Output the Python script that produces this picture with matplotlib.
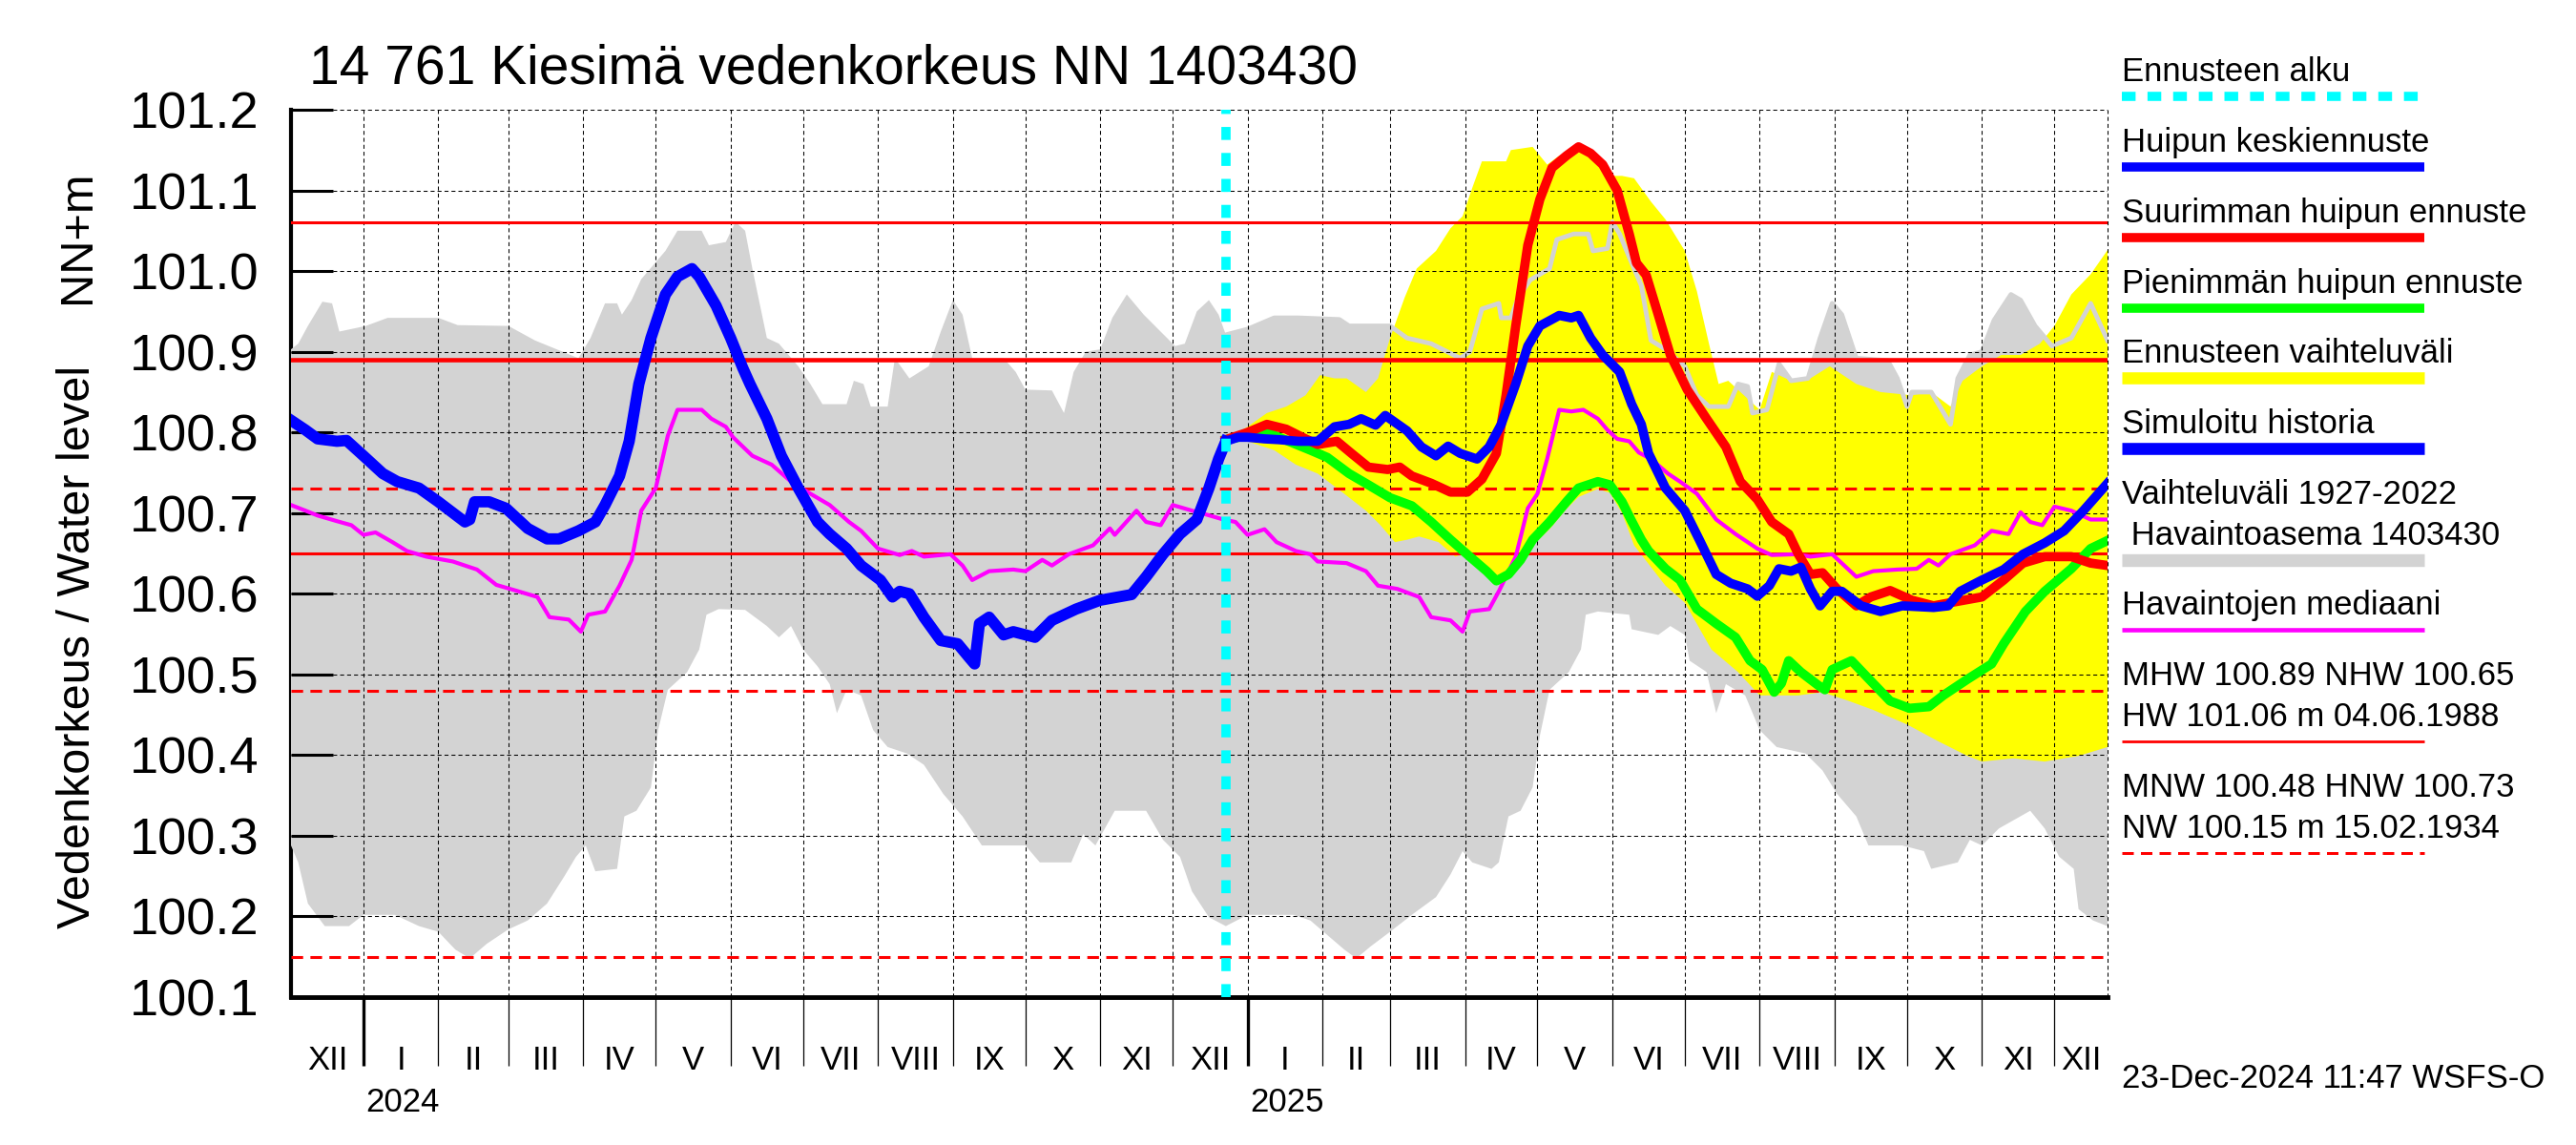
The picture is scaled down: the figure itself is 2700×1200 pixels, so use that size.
import numpy as np
import matplotlib
matplotlib.use("Agg")
import matplotlib.pyplot as plt
from matplotlib.transforms import blended_transform_factory

plt.rcParams['font.family'] = ['Liberation Sans', 'DejaVu Sans']

# x axis: days counted from 1 Jan 2024
x_start, x_end = -30, 722
forecast_day = 357

# simulated history (blue)
hist_days = [-30, -24, -19, -11, -7, 0, 8, 14, 23, 31, 42, 44, 46, 52, 59, 68, 76, 81, 89, 96,
             100, 106, 110, 114, 119, 125, 130, 136, 139, 146, 152, 157, 160, 167, 173, 180, 188,
             193, 200, 206, 214, 219, 222, 226, 232, 239, 246, 251, 253, 255, 259, 265, 269, 278,
             285, 295, 305, 318, 324, 331, 338, 345, 350, 354, 357]
hist_vals = [100.815, 100.803, 100.792, 100.789, 100.79, 100.771, 100.749, 100.739, 100.731, 100.714,
             100.689, 100.692, 100.714, 100.714, 100.706, 100.681, 100.668, 100.668, 100.678, 100.689,
             100.71, 100.746, 100.789, 100.86, 100.917, 100.971, 100.993, 101.003, 100.993, 100.957,
             100.917, 100.88, 100.86, 100.817, 100.771, 100.731, 100.689, 100.674, 100.656, 100.635,
             100.617, 100.596, 100.603, 100.6, 100.571, 100.542, 100.538, 100.52, 100.513, 100.563,
             100.571, 100.549, 100.553, 100.546, 100.567, 100.581, 100.592, 100.599, 100.621, 100.649,
             100.674, 100.692, 100.731, 100.767, 100.789]

# mean peak forecast (blue)
mid_days = [357, 362, 366, 373, 379, 387, 395, 402, 408, 413, 419, 423, 432, 438, 444, 449, 454, 461,
            466, 471, 477, 482, 487, 495, 500, 503, 508, 513, 520, 525, 529, 532, 539, 547, 553, 560,
            566, 573, 577, 582, 586, 591, 595, 599, 603, 608, 612, 620, 628, 637, 650, 656, 661, 670,
            679, 687, 696, 704, 712, 722]
mid_vals = [100.789, 100.794, 100.794, 100.792, 100.791, 100.789, 100.789, 100.807, 100.81, 100.817,
            100.809, 100.821, 100.802, 100.782, 100.771, 100.783, 100.774, 100.767, 100.782, 100.81,
            100.86, 100.907, 100.932, 100.945, 100.942, 100.945, 100.917, 100.896, 100.875, 100.835,
            100.81, 100.774, 100.731, 100.703, 100.667, 100.624, 100.613, 100.606, 100.597, 100.61,
            100.631, 100.628, 100.633, 100.606, 100.585, 100.603, 100.603, 100.585, 100.578, 100.585,
            100.583, 100.585, 100.603, 100.617, 100.63, 100.649, 100.663, 100.678, 100.703, 100.737]

# highest peak forecast (red)
max_days = [357, 366, 374, 382, 390, 395, 403, 409, 416, 424, 429, 434, 442, 450, 457, 463, 469, 473,
            477, 482, 487, 492, 498, 503, 508, 513, 519, 524, 527, 531, 536, 541, 548, 556, 564, 570,
            577, 583, 590, 594, 599, 604, 610, 618, 624, 632, 641, 650, 657, 670, 679, 687, 696, 707,
            715, 722]
max_vals = [100.791, 100.8, 100.81, 100.804, 100.792, 100.785, 100.789, 100.774, 100.757, 100.754,
            100.757, 100.746, 100.737, 100.726, 100.726, 100.742, 100.774, 100.846, 100.932, 101.032,
            101.089, 101.128, 101.143, 101.154, 101.146, 101.132, 101.1, 101.046, 101.01, 100.995,
            100.946, 100.896, 100.853, 100.817, 100.782, 100.739, 100.717, 100.689, 100.674, 100.649,
            100.624, 100.626, 100.606, 100.585, 100.596, 100.604, 100.592, 100.585, 100.589, 100.596,
            100.617, 100.638, 100.646, 100.646, 100.638, 100.635]

# lowest peak forecast (green)
min_days = [357, 366, 374, 383, 392, 399, 408, 416, 425, 434, 442, 450, 458, 465, 469, 474, 479, 484,
            491, 498, 503, 511, 516, 521, 525, 529, 532, 539, 545, 552, 560, 568, 574, 579, 584, 587,
            590, 595, 602, 605, 608, 616, 623, 632, 640, 648, 654, 664, 674, 679, 688, 696, 707, 715,
            722]
min_vals = [100.791, 100.796, 100.8, 100.789, 100.778, 100.769, 100.749, 100.735, 100.719, 100.709,
            100.689, 100.667, 100.646, 100.628, 100.616, 100.624, 100.642, 100.667, 100.689, 100.714,
            100.731, 100.739, 100.735, 100.714, 100.69, 100.667, 100.653, 100.631, 100.617, 100.581,
            100.563, 100.546, 100.517, 100.506, 100.478, 100.489, 100.517, 100.503, 100.487, 100.481,
            100.506, 100.517, 100.495, 100.467, 100.458, 100.46, 100.474, 100.494, 100.513, 100.538,
            100.578, 100.603, 100.631, 100.656, 100.666]

# observed median (magenta)
med_days = [-30, -24, -19, -11, -5, 0, 5, 12, 18, 26, 37, 47, 55, 63, 72, 77, 85, 90, 93, 100, 106,
            111, 115, 121, 126, 130, 140, 144, 150, 153, 161, 169, 177, 185, 193, 201, 206, 213, 222,
            227, 232, 243, 248, 252, 259, 269, 274, 281, 285, 292, 302, 309, 311, 320, 324, 330, 335,
            343, 348, 356, 361, 366, 373, 378, 386, 392, 395, 407, 415, 420, 428, 437, 442, 450, 455,
            458, 466, 470, 477, 482, 486, 490, 495, 500, 505, 511, 515, 519, 524, 528, 533, 540, 545,
            552, 560, 568, 577, 583, 593, 599, 608, 618, 625, 635, 643, 648, 652, 657, 667, 674, 681,
            686, 690, 695, 700, 707, 715, 722]
med_vals = [100.71, 100.703, 100.697, 100.69, 100.685, 100.673, 100.676, 100.664, 100.653, 100.646,
            100.64, 100.63, 100.611, 100.604, 100.596, 100.571, 100.568, 100.553, 100.574, 100.578,
            100.61, 100.642, 100.703, 100.731, 100.796, 100.828, 100.828, 100.817, 100.807, 100.794,
            100.771, 100.76, 100.739, 100.724, 100.71, 100.689, 100.678, 100.656, 100.648, 100.653,
            100.646, 100.649, 100.635, 100.617, 100.628, 100.63, 100.628, 100.642, 100.635, 100.649,
            100.66, 100.681, 100.673, 100.703, 100.689, 100.685, 100.71, 100.703, 100.699, 100.692,
            100.689, 100.673, 100.68, 100.664, 100.653, 100.649, 100.64, 100.638, 100.628, 100.61,
            100.606, 100.596, 100.571, 100.567, 100.553, 100.578, 100.581, 100.603, 100.646, 100.706,
            100.724, 100.767, 100.828, 100.826, 100.828, 100.817, 100.803, 100.792, 100.789, 100.775,
            100.767, 100.749, 100.739, 100.724, 100.692, 100.674, 100.656, 100.648, 100.649, 100.646,
            100.649, 100.621, 100.628, 100.63, 100.631, 100.642, 100.635, 100.649, 100.66, 100.678,
            100.674, 100.701, 100.689, 100.685, 100.708, 100.703, 100.692, 100.692]

# variation range 1927-2022, upper and lower edge (grey)
band_hi_days = [-30, -27, -23, -17, -13, -10, 1, 10, 31, 39, 60, 71, 80, 89, 94, 100, 105, 107, 111,
                115, 125, 130, 140, 143, 150, 154, 158, 161, 167, 172, 180, 185, 190, 200, 203, 207,
                210, 217, 220, 226, 234, 239, 244, 248, 252, 265, 270, 274, 285, 290, 294, 299, 305,
                310, 316, 323, 330, 336, 340, 345, 350, 354, 357, 366, 377, 387, 404, 408, 425, 432,
                442, 454, 458, 463, 470, 471, 475, 478, 483, 491, 494, 501, 507, 509, 515, 517, 520,
                526, 529, 533, 539, 547, 552, 557, 565, 569, 573, 575, 581, 586, 591, 598, 603, 608,
                612, 618, 631, 635, 639, 641, 649, 657, 660, 665, 670, 675, 682, 686, 692, 699, 707,
                715, 722]
band_hi_vals = [100.903, 100.91, 100.932, 100.962, 100.96, 100.925, 100.932, 100.942, 100.942, 100.933,
                100.932, 100.914, 100.903, 100.892, 100.917, 100.96, 100.96, 100.946, 100.964, 100.99,
                101.025, 101.05, 101.05, 101.032, 101.036, 101.061, 101.05, 101.003, 100.917, 100.91,
                100.882, 100.86, 100.835, 100.835, 100.864, 100.86, 100.832, 100.832, 100.892, 100.867,
                100.882, 100.925, 100.964, 100.946, 100.892, 100.892, 100.875, 100.853, 100.852, 100.824,
                100.875, 100.9, 100.903, 100.942, 100.971, 100.946, 100.925, 100.907, 100.91, 100.95,
                100.964, 100.946, 100.921, 100.928, 100.942, 100.942, 100.94, 100.932, 100.932, 100.917,
                100.91, 100.892, 100.9, 100.953, 100.96, 100.942, 100.942, 100.967, 100.989, 101.003,
                101.039, 101.046, 101.046, 101.025, 101.028, 101.061, 101.046, 101.003, 100.982, 100.914,
                100.903, 100.882, 100.846, 100.832, 100.832, 100.86, 100.857, 100.824, 100.828, 100.885,
                100.864, 100.867, 100.917, 100.96, 100.946, 100.892, 100.889, 100.867, 100.832, 100.85,
                100.85, 100.81, 100.867, 100.896, 100.9, 100.939, 100.971, 100.964, 100.932, 100.907,
                100.917, 100.96, 100.914]
band_lo_days = [-30, -27, -23, -16, -6, 0, 13, 23, 31, 38, 44, 51, 60, 68, 76, 83, 88, 92, 96, 105,
                108, 113, 119, 122, 126, 134, 139, 142, 147, 158, 167, 172, 177, 182, 188, 193, 196,
                200, 206, 211, 217, 225, 232, 240, 248, 256, 274, 280, 293, 298, 303, 311, 324, 331,
                338, 343, 350, 357, 366, 385, 392, 399, 406, 411, 417, 425, 434, 444, 450, 455, 459,
                467, 470, 474, 479, 484, 487, 491, 499, 504, 506, 511, 524, 525, 536, 541, 547, 549,
                556, 560, 564, 572, 578, 585, 597, 604, 610, 618, 623, 637, 646, 649, 660, 665, 670,
                677, 690, 696, 702, 708, 710, 716, 722]
band_lo_vals = [100.288, 100.267, 100.216, 100.188, 100.188, 100.202, 100.202, 100.188, 100.181, 100.159,
                100.148, 100.166, 100.184, 100.195, 100.216, 100.249, 100.274, 100.288, 100.256, 100.259,
                100.324, 100.331, 100.36, 100.431, 100.481, 100.503, 100.531, 100.574, 100.581, 100.58,
                100.56, 100.546, 100.56, 100.531, 100.51, 100.488, 100.452, 100.481, 100.474, 100.431,
                100.41, 100.402, 100.388, 100.352, 100.324, 100.288, 100.288, 100.267, 100.267, 100.302,
                100.288, 100.331, 100.331, 100.295, 100.274, 100.231, 100.199, 100.188, 100.202, 100.202,
                100.195, 100.177, 100.159, 100.148, 100.163, 100.181, 100.202, 100.224, 100.252, 100.281,
                100.267, 100.259, 100.267, 100.324, 100.331, 100.36, 100.424, 100.481, 100.503, 100.531,
                100.574, 100.578, 100.574, 100.556, 100.549, 100.56, 100.549, 100.517, 100.503, 100.452,
                100.488, 100.474, 100.431, 100.41, 100.402, 100.381, 100.352, 100.324, 100.288, 100.288,
                100.281, 100.259, 100.267, 100.295, 100.288, 100.309, 100.331, 100.309, 100.274, 100.259,
                100.209, 100.195, 100.188]

# forecast range (yellow)
fc_hi_days = [357, 366, 374, 382, 390, 396, 402, 407, 415, 420, 425, 431, 436, 444, 450, 455, 459, 463,
              473, 475, 484, 490, 495, 503, 511, 516, 521, 526, 533, 539, 547, 552, 557, 561, 565, 574,
              578, 583, 591, 599, 607, 618, 628, 641, 649, 657, 662, 670, 678, 686, 694, 700, 707, 715,
              722]
fc_hi_vals = [100.791, 100.807, 100.824, 100.832, 100.846, 100.871, 100.867, 100.867, 100.85, 100.867,
              100.917, 100.967, 101.003, 101.025, 101.053, 101.068, 101.103, 101.136, 101.136, 101.15,
              101.154, 101.132, 101.143, 101.154, 101.143, 101.118, 101.118, 101.115, 101.086, 101.064,
              101.025, 100.975, 100.91, 100.86, 100.864, 100.839, 100.828, 100.875, 100.864, 100.867,
              100.882, 100.86, 100.85, 100.846, 100.85, 100.832, 100.864, 100.882, 100.896, 100.896,
              100.91, 100.932, 100.971, 100.996, 101.026]
fc_lo_days = [357, 366, 377, 386, 395, 406, 415, 421, 427, 432, 437, 445, 452, 455, 461, 469, 474, 479,
              484, 491, 498, 503, 511, 516, 521, 526, 539, 547, 558, 569, 578, 594, 604, 615, 625, 639,
              652, 664, 670, 683, 696, 710, 722]
fc_lo_vals = [100.791, 100.789, 100.778, 100.76, 100.749, 100.724, 100.703, 100.685, 100.664, 100.667,
              100.671, 100.664, 100.646, 100.649, 100.635, 100.613, 100.62, 100.635, 100.66, 100.68,
              100.705, 100.72, 100.73, 100.725, 100.7, 100.66, 100.61, 100.589, 100.531, 100.503,
              100.474, 100.474, 100.478, 100.467, 100.456, 100.438, 100.417, 100.399, 100.392, 100.396,
              100.392, 100.399, 100.41]

# reference levels
HW, MHW, NHW = 101.06, 100.89, 100.65
HNW, MNW, NW = 100.73, 100.48, 100.15

roman = ['I', 'II', 'III', 'IV', 'V', 'VI', 'VII', 'VIII', 'IX', 'X', 'XI', 'XII']

GREY = '#d3d3d3'
W, H = 2700, 1200

fig = plt.figure(figsize=(27, 12), dpi=100)
ax = fig.add_axes([305 / W, 1 - 1045 / H, (2209 - 305) / W, (1045 - 115) / H])

# grey band + yellow forecast range
ax.fill(np.r_[band_hi_days, band_lo_days[::-1]], np.r_[band_hi_vals, band_lo_vals[::-1]],
        color=GREY, lw=0, zorder=1)
ax.fill(np.r_[fc_hi_days, fc_lo_days[::-1]], np.r_[fc_hi_vals, fc_lo_vals[::-1]],
        color='#ffff00', lw=0, zorder=1.1)
bd = np.array(band_hi_days)
bv = np.array(band_hi_vals)
m = bd >= forecast_day - 2
ax.plot(bd[m], bv[m], color=GREY, lw=3.5, zorder=1.2)

# reference lines
dash = (0, (4, 2.5))
ax.axhline(HW, color='red', lw=2.2, zorder=3)
ax.axhline(MHW, color='red', lw=3.3, zorder=3)
ax.axhline(NHW, color='red', lw=2.2, zorder=3)
for lev in (HNW, MNW, NW):
    ax.axhline(lev, color='red', lw=2.2, ls=dash, zorder=3)

# series
ax.plot(med_days, med_vals, color='#ff00ff', lw=3, zorder=4)
ax.plot(min_days, min_vals, color='#00ff00', lw=7, zorder=5)
ax.plot(max_days, max_vals, color='red', lw=7, zorder=5.5)
ax.plot(mid_days, mid_vals, color='blue', lw=7, zorder=6)
ax.plot(hist_days, hist_vals, color='blue', lw=8.5, zorder=6)
ax.axvline(forecast_day, color='cyan', lw=7, ls=(0, (1.4, 1.4)), zorder=7)

# axes, ticks and grid
ax.set_xlim(x_start, x_end)
ax.set_ylim(100.1, 101.2)
ax.set_axisbelow(False)

origin = np.datetime64('2024-01-01')
months = np.arange(np.datetime64('2023-12'), np.datetime64('2026-01'), dtype='datetime64[M]')
m_start = (months.astype('datetime64[D]') - origin).astype(int)
m_end = ((months + 1).astype('datetime64[D]') - origin).astype(int)
year_days = [d for d, mo in zip(m_start, months) if mo.astype(int) % 12 == 0]
month_days = [d for d in m_start if x_start < d < x_end]

ax.set_xticks(year_days)
ax.set_xticks(month_days, minor=True)
ax.tick_params(axis='x', which='major', direction='out', length=52, width=2.4,
               labelbottom=False)
ax.tick_params(axis='x', which='minor', direction='out', length=52, width=0.9)
ax.set_yticks(np.round(np.arange(100.1, 101.21, 0.1), 1))
ax.set_yticklabels([f'{v:.1f}' for v in np.arange(100.1, 101.21, 0.1)])
ax.tick_params(axis='y', direction='in', length=32, width=2.2, pad=24, labelsize=39)
grid_ls = (0, (4, 3))
ax.grid(True, axis='x', which='both', color='black', lw=0.75, ls=grid_ls)
ax.grid(True, axis='y', which='major', color='black', lw=0.75, ls=grid_ls)
ax.axvline(x_end, color='black', lw=0.75, ls=grid_ls, clip_on=False, zorder=2.5)

for s in ('top', 'right'):
    ax.spines[s].set_visible(False)
ax.spines['left'].set_linewidth(3)
ax.spines['left'].set_zorder(0.5)
ax.spines['bottom'].set_linewidth(3.5)

# month and year labels under the axis
tr = blended_transform_factory(ax.transData, fig.transFigure)
for s, e, mo in zip(m_start, m_end, months):
    a, b = max(s, x_start), min(e, x_end)
    if b - a < 5:
        continue
    ax.text((a + b) / 2, 1 - 1121 / H, roman[mo.astype(int) % 12], transform=tr,
            ha='center', va='baseline', fontsize=25)
for d in year_days:
    yr = str((origin + np.timedelta64(int(d), 'D')).astype('datetime64[Y]'))
    ax.text(d + 1, 1 - 1165 / H, yr, transform=tr, ha='left', va='baseline', fontsize=25)

# titles
fig.text(324 / W, 1 - 87 / H, '14 761 Kiesimä vedenkorkeus NN 1403430', fontsize=41,
         va='baseline')
fig.text(82 / W, 1 - 678 / H, 'Vedenkorkeus / Water level', rotation=90, fontsize=35,
         ha='center', va='center')
fig.text(82 / W, 1 - 248 / H, 'NN+m', rotation=90, fontsize=35, ha='center', va='center')

# legend drawn in pixel coordinates
lax = fig.add_axes([0, 0, 1, 1], facecolor='none')
lax.set_xlim(0, W)
lax.set_ylim(H, 0)
lax.axis('off')
lx0, lx1 = 2224, 2541
px = 0.72
legend = [
    (['Ennusteen alku'], 101, 'cyan', 9.6, (0, (1.5, 1.3))),
    (['Huipun keskiennuste'], 175, 'blue', 9.6, '-'),
    (['Suurimman huipun ennuste'], 249, 'red', 9.6, '-'),
    (['Pienimmän huipun ennuste'], 323, '#00ff00', 9.6, '-'),
    (['Ennusteen vaihteluväli'], 396, '#ffff00', 12.6, '-'),
    (['Simuloitu historia'], 470, 'blue', 12.6, '-'),
    (['Vaihteluväli 1927-2022', ' Havaintoasema 1403430'], 587, GREY, 13.4, '-'),
    (['Havaintojen mediaani'], 660, '#ff00ff', 4.6, '-'),
    (['MHW 100.89 NHW 100.65', 'HW 101.06 m 04.06.1988'], 777, 'red', 2.8, '-'),
    (['MNW 100.48 HNW 100.73', 'NW 100.15 m 15.02.1934'], 894, 'red', 3.0, (0, (4, 2.5))),
]
for lines, ly, col, lw, ls in legend:
    n = len(lines)
    for i, t in enumerate(lines):
        base = ly - 28 - 43 * (n - 1 - i) + 12
        lax.text(lx0, base, t, fontsize=25, va='baseline', ha='left')
    lax.plot([lx0, lx1], [ly, ly], color=col, lw=lw * px, ls=ls, solid_capstyle='butt')
lax.text(lx0, 1140, '23-Dec-2024 11:47 WSFS-O', fontsize=25, va='baseline', ha='left')

fig.savefig('out.png', dpi=100)
